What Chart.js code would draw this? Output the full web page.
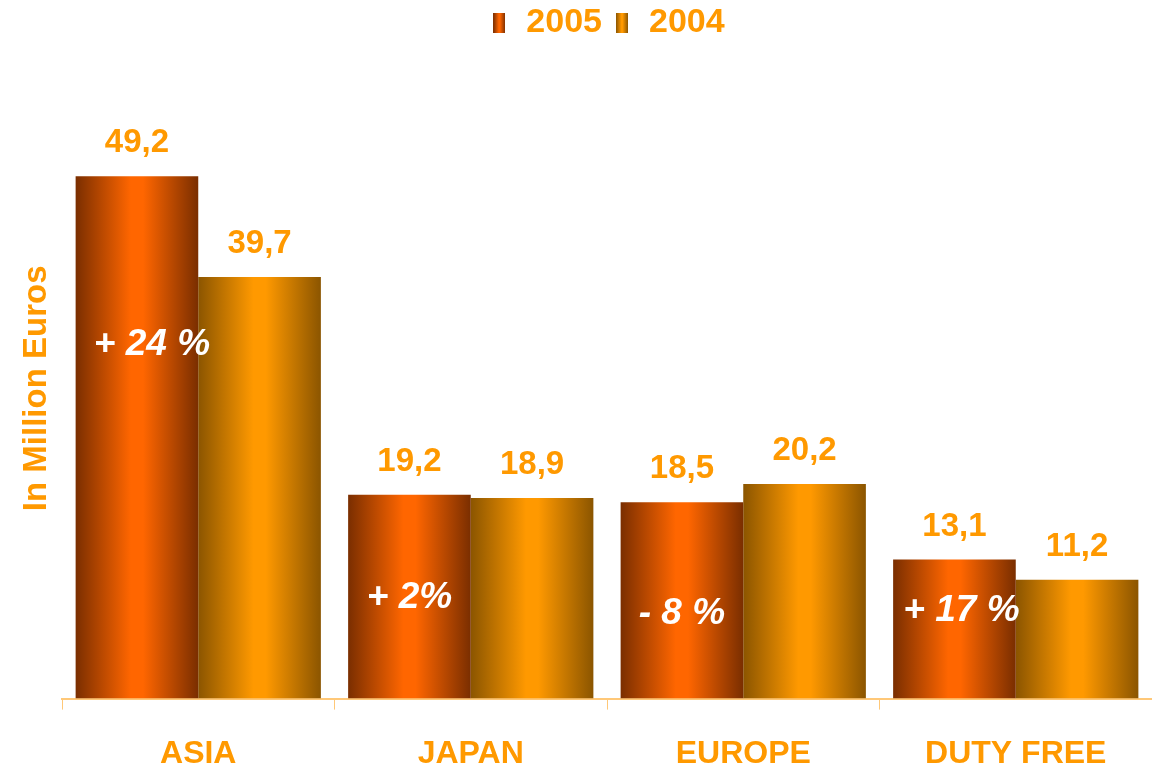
<!DOCTYPE html>
<html lang="en">
<head>
<meta charset="UTF-8">
<title>Sales by region</title>
<script src="https://cdn.jsdelivr.net/npm/chart.js"></script>
<style>
  html, body { margin: 0; padding: 0; background: #fff; }
  #wrap { width: 1152px; height: 769px; }
</style>
</head>
<body>
<div id="wrap"><canvas id="grafico" width="1152" height="769"></canvas></div>
<script>
// data
const categories = ['ASIA', 'JAPAN', 'EUROPE', 'DUTY FREE'];
const seriesNames = ['2005', '2004'];
const values2005 = [49.2, 19.2, 18.5, 13.1];
const values2004 = [39.7, 18.9, 20.2, 11.2];
const growthLabels = ['+ 24 %', '+ 2%', '- 8 %', '+ 17 %'];
const growthLabelY = [33.3, 9.5, 8.0, 8.3];   // where the growth text sits, in million euros

const ORANGE = '#FF9900';
const FONT = '"Liberation Sans", Arial, sans-serif';

// gradient stops per series: edge, centre
const shades = [
  { edge: '#7A2E00', mid: '#FF6600' },
  { edge: '#8B5500', mid: '#FF9900' }
];

function barGradient(ctx, x0, x1, s) {
  const g = ctx.createLinearGradient(x0, 0, x1, 0);
  g.addColorStop(0, s.edge);
  g.addColorStop(0.45, s.mid);
  g.addColorStop(0.55, s.mid);
  g.addColorStop(1, s.edge);
  return g;
}

// small gradient swatches for the legend
function swatch(s) {
  const c = document.createElement('canvas');
  c.width = 12; c.height = 20;
  const cx = c.getContext('2d');
  cx.fillStyle = barGradient(cx, 0, 12, s);
  cx.fillRect(0, 0, 12, 20);
  return c;
}
const swatches = shades.map(swatch);

// extra gap under the legend, and centre it over the plot rather than the canvas
const legendSpacing = {
  id: 'legendSpacing',
  afterInit(chart) {
    const lg = chart.legend;
    const fit = lg.fit.bind(lg);
    lg.fit = function () { fit(); this.height += 28; };
  },
  beforeDraw(chart) {
    chart.legend.left = chart.chartArea.left;
    chart.legend.right = chart.chartArea.right;
  }
};

// fill every bar with its horizontal gradient once positions are known
const gradientBars = {
  id: 'gradientBars',
  beforeDatasetsDraw(chart) {
    const ctx = chart.ctx;
    chart.data.datasets.forEach((ds, i) => {
      chart.getDatasetMeta(i).data.forEach(bar => {
        const x0 = bar.x - bar.width / 2;
        bar.options = Object.assign({}, bar.options, {
          backgroundColor: barGradient(ctx, x0, x0 + bar.width, shades[i])
        });
      });
    });
  }
};

// values above the bars and growth text inside the 2005 bars
const barLabels = {
  id: 'barLabels',
  afterDatasetsDraw(chart) {
    const ctx = chart.ctx;
    const y = chart.scales.y;
    ctx.save();
    ctx.textAlign = 'center';
    ctx.textBaseline = 'middle';
    ctx.fillStyle = ORANGE;
    ctx.font = 'bold 33px ' + FONT;
    chart.data.datasets.forEach((ds, i) => {
      chart.getDatasetMeta(i).data.forEach((bar, j) => {
        ctx.fillText(ds.data[j].toFixed(1).replace('.', ','), bar.x, bar.y - 33);
      });
    });
    const dx = [15, 0, 0, 7];
    ctx.fillStyle = '#FFFFFF';
    ctx.font = 'italic bold 37px ' + FONT;
    chart.getDatasetMeta(0).data.forEach((bar, j) => {
      ctx.fillText(growthLabels[j], bar.x + dx[j], y.getPixelForValue(growthLabelY[j]));
    });
    ctx.restore();
  }
};

new Chart(document.getElementById('grafico'), {
  type: 'bar',
  data: {
    labels: categories,
    datasets: [
      { label: seriesNames[0], data: values2005, backgroundColor: '#FF6600' },
      { label: seriesNames[1], data: values2004, backgroundColor: '#FF9900' }
    ]
  },
  options: {
    responsive: false,
    animation: false,
    categoryPercentage: 0.9,
    barPercentage: 1.0,
    layout: { padding: { left: 20, right: 0, top: -4, bottom: -29 } },
    plugins: {
      tooltip: { enabled: false },
      legend: {
        position: 'top',
        labels: {
          color: ORANGE,
          font: { family: FONT, size: 34, weight: 'bold' },
          usePointStyle: true,
          pointStyleWidth: 20,
          padding: 10,
          generateLabels(chart) {
            return chart.data.datasets.map((ds, i) => ({
              text: ds.label,
              pointStyle: swatches[i],
              fontColor: ORANGE,
              datasetIndex: i,
              hidden: false,
              lineWidth: 0
            }));
          }
        }
      }
    },
    scales: {
      x: {
        offset: true,
        grid: {
          offset: true,
          drawOnChartArea: false,
          tickLength: 11,
          color: '#FFC878'
        },
        border: { color: '#FFC878', width: 2 },
        ticks: {
          color: ORANGE,
          font: { family: FONT, size: 32, weight: 'bold' },
          padding: 25
        }
      },
      y: {
        min: 0,
        max: 58.45,
        grid: { display: false },
        border: { display: false },
        ticks: { display: false },
        title: {
          display: true,
          text: 'In Million Euros',
          color: ORANGE,
          font: { family: FONT, size: 33, weight: 'bold', lineHeight: 1 },
          padding: { top: 0, bottom: 1 }
        }
      }
    }
  },
  plugins: [legendSpacing, gradientBars, barLabels]
});
</script>
</body>
</html>
